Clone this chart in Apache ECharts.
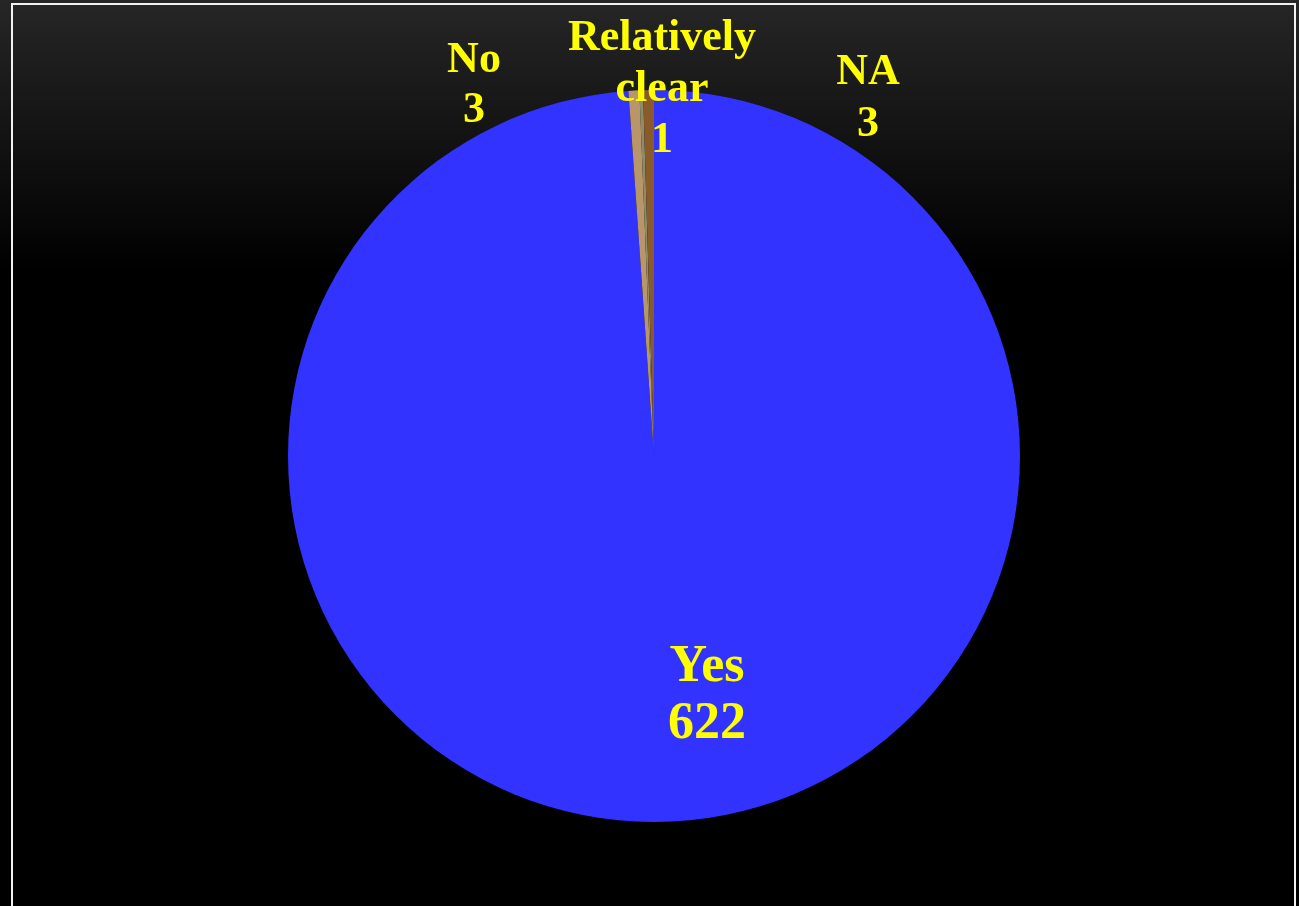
<!DOCTYPE html>
<html>
<head>
<meta charset="utf-8">
<style>
html,body{margin:0;padding:0;background:#000;}
#chart{width:1299px;height:906px;}
</style>
<script src="https://cdn.jsdelivr.net/npm/echarts@6/dist/echarts.min.js"></script>
</head>
<body>
<div id="chart"></div>
<script>
const categories = ['Yes', 'No', 'Relatively clear', 'NA'];
const values = [622, 3, 1, 3];
const labelTexts = ['Yes\n622', 'No\n3', 'Relatively\nclear\n1', 'NA\n3'];
const colors = ['#3333FF', '#B8966A', '#8C8C6A', '#8B5A2B'];

const labelSpots = {
  'Yes': {x: 707, y: 696, size: 52, lh: 57},
  'No': {x: 474, y: 86, size: 44, lh: 50},
  'Relatively clear': {x: 662, y: 90, size: 44, lh: 51},
  'NA': {x: 868, y: 99, size: 44, lh: 52}
};

const chart = echarts.init(document.getElementById('chart'));
chart.setOption({
  backgroundColor: {
    type: 'linear', x: 0, y: 0, x2: 0, y2: 1,
    colorStops: [
      {offset: 0, color: '#262626'},
      {offset: 0.3, color: '#000000'},
      {offset: 1, color: '#000000'}
    ]
  },
  graphic: [{
    type: 'rect',
    shape: {x: 12, y: 4, width: 1283, height: 920},
    style: {fill: 'none', stroke: '#f2f2f2', lineWidth: 2},
    silent: true
  }],
  series: [{
    type: 'pie',
    center: [654, 456],
    radius: 366,
    startAngle: 90,
    clockwise: true,
    animation: false,
    labelLine: {show: false},
    label: {
      show: true,
      position: 'outside',
      color: '#FFFF00',
      fontFamily: 'Liberation Serif, serif',
      fontWeight: 'bold',
      formatter: p => labelTexts[p.dataIndex]
    },
    labelLayout: function (params) {
      const s = labelSpots[categories[params.dataIndex]];
      return {x: s.x, y: s.y, align: 'center', verticalAlign: 'middle'};
    },
    data: categories.map((c, i) => ({
      name: c,
      value: values[i],
      itemStyle: {color: colors[i], borderWidth: 0},
      label: {
        fontSize: labelSpots[c].size,
        lineHeight: labelSpots[c].lh
      }
    }))
  }]
});
</script>
</body>
</html>
